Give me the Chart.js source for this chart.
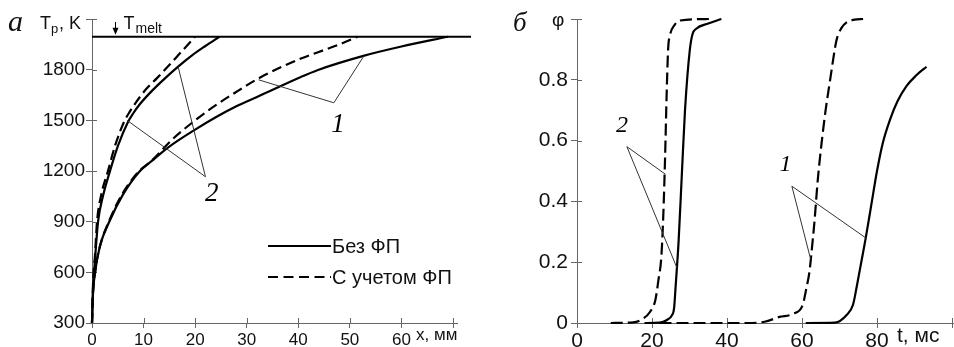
<!DOCTYPE html>
<html lang="ru">
<head>
<meta charset="UTF-8">
<script src="https://cdn.jsdelivr.net/npm/chart.js"></script>
<title>Tp(x) и φ(t)</title>
<style>
  body { margin: 0; background: #fff; }
  #wrap { position: relative; width: 954px; height: 347px; }
  canvas { position: absolute; top: 0; }
  #leftChart { left: 0; }
  #rightChart { left: 477px; }
</style>
</head>
<body>
<div id="wrap">
  <canvas id="leftChart" width="477" height="347"></canvas>
  <canvas id="rightChart" width="477" height="347"></canvas>
</div>
<script>
// ---------- panel а: Tp vs x, мм ----------
var tMelt = 1995;
var meltX = [0, 73.5];
var meltT = [tMelt, tMelt];

var x1Solid = [0, 0.15, 0.6, 1.5, 3.5, 6, 9.3, 11.6, 14.8, 20, 24, 27.8, 32.7, 40.5, 43.7, 52.8, 60, 69];
var t1Solid = [300, 450, 600, 750, 910, 1060, 1200, 1260, 1340, 1445, 1518, 1580, 1648, 1757, 1797, 1883, 1937, 1995];
var x1Dash  = [0, 0.15, 0.6, 1.5, 3.4, 5.8, 9, 11.6, 15.5, 20, 23.3, 27.8, 32.7, 40.5, 43.7, 48, 51.5];
var t1Dash  = [300, 450, 600, 750, 910, 1060, 1195, 1262, 1385, 1500, 1575, 1665, 1755, 1866, 1902, 1950, 1995];
var x2Solid = [0, 0.19, 0.58, 1.17, 2.14, 3.5, 5.06, 7.0, 8.0, 9.34, 11.67, 14.2, 16.7, 19.46, 21.98, 24.7];
var t2Solid = [300, 496, 674, 899, 1053, 1201, 1352, 1492, 1542, 1598, 1676, 1750, 1818, 1886, 1940, 1995];
var x2Dash  = [0, 0.19, 0.58, 0.97, 1.75, 3.11, 4.47, 6.23, 7.3, 8.5, 10.5, 12.6, 14.8, 17.3, 20.0];
var t2Dash  = [300, 526, 703, 899, 1053, 1201, 1350, 1492, 1550, 1605, 1685, 1750, 1821, 1905, 1995];

var xTicksLeft = [0, 10, 20, 30, 40, 50, 60, 70];
var yTicksLeft = [300, 600, 900, 1200, 1500, 1800, 2100];
var legendLabels = ['Без ФП', 'С учетом ФП'];

// ---------- panel б: φ vs t, мс ----------
var t2DashR  = [9, 15, 17, 19.5, 20.9, 21.7, 22.5, 23.0, 23.5, 23.9, 24.3, 24.8, 26, 27.5, 35.5];
var f2Dash   = [0, 0.002, 0.01, 0.037, 0.076, 0.14, 0.22, 0.35, 0.55, 0.75, 0.9, 0.947, 0.98, 0.995, 1.0];
var t2SolidR = [18, 22, 24, 25.3, 25.9, 26.3, 27.1, 28, 28.8, 30.1, 30.8, 31.8, 35, 38.5];
var f2Solid  = [0, 0.001, 0.01, 0.025, 0.05, 0.12, 0.27, 0.5, 0.70, 0.9, 0.95, 0.968, 0.985, 1.0];
var t1DashR  = [22, 45, 50, 54, 57.6, 60.2, 61.1, 62, 62.6, 63.3, 64.2, 65.3, 66.3, 67.5, 69.2, 70.5, 72, 74, 76.3];
var f1Dash   = [0, 0, 0.004, 0.02, 0.03, 0.06, 0.11, 0.17, 0.24, 0.33, 0.47, 0.6, 0.7, 0.8, 0.93, 0.97, 0.99, 0.998, 1.0];
var t1SolidR = [61, 68.8, 71.9, 73.6, 74.6, 75.8, 77, 78.5, 80, 81.5, 83.5, 85.5, 87.9, 90.5, 93.2];
var f1Solid  = [0, 0.001, 0.026, 0.06, 0.12, 0.2, 0.28, 0.39, 0.5, 0.59, 0.67, 0.73, 0.78, 0.815, 0.843];

var xTicksRight = [0, 20, 40, 60, 80, 100];
var yTicksRight = [0, 0.2, 0.4, 0.6, 0.8, 1];

// curve labels "1", "2" with their leader lines (data coords)
var leftNotes = [
  { text: '1', at: [47.7, 1474], apex: [46.9, 1604], ends: [[32.3, 1740], [52.7, 1880]] },
  { text: '2', at: [23.2, 1062], apex: [22.0, 1166], ends: [[16.7, 1818], [6.8, 1500]] }
];
var rightNotes = [
  { text: '2', at: [12.0, 0.65], apex: [13.3, 0.58], ends: [[23.5, 0.49], [26.7, 0.18]] },
  { text: '1', at: [55.6, 0.52], apex: [57.3, 0.45], ends: [[62.3, 0.21], [77.0, 0.28]] }
];

var AXIS = '#666';
var INK = '#111';
var SANS = '"Liberation Sans", Arial, sans-serif';
var SERIF = '"Liberation Serif", "Times New Roman", serif';

function pts(xs, ys) {
  return xs.map(function (x, i) { return { x: x, y: ys[i] }; });
}

function curve(xs, ys, dash) {
  return {
    data: pts(xs, ys),
    showLine: true,
    borderColor: '#000',
    borderWidth: 2.2,
    borderDash: dash || [],
    pointRadius: 0,
    cubicInterpolationMode: 'monotone',
    clip: false
  };
}

// tick stubs inside the plot, so ticks cross the axis like "+"
var crossTicks = {
  id: 'crossTicks',
  beforeDatasetsDraw: function (chart) {
    var ctx = chart.ctx, a = chart.chartArea, xs = chart.scales.x, ys = chart.scales.y;
    ctx.save();
    ctx.strokeStyle = AXIS;
    ctx.lineWidth = 1;
    ctx.beginPath();
    xs.ticks.forEach(function (t) {
      var px = Math.round(xs.getPixelForValue(t.value)) + 0.5;
      ctx.moveTo(px, a.bottom);
      ctx.lineTo(px, a.bottom - 5);
    });
    ys.ticks.forEach(function (t) {
      var py = Math.round(ys.getPixelForValue(t.value)) + 0.5;
      ctx.moveTo(a.left, py);
      ctx.lineTo(a.left + 5, py);
    });
    ctx.moveTo(a.right, Math.round(a.bottom) + 0.5);
    ctx.lineTo(a.right + 5, Math.round(a.bottom) + 0.5);
    ctx.stroke();
    ctx.restore();
  }
};

function drawNotes(chart, notes, size) {
  var ctx = chart.ctx, xs = chart.scales.x, ys = chart.scales.y;
  ctx.save();
  ctx.strokeStyle = '#333';
  ctx.lineWidth = 1;
  notes.forEach(function (n) {
    var ax = xs.getPixelForValue(n.apex[0]), ay = ys.getPixelForValue(n.apex[1]);
    ctx.beginPath();
    n.ends.forEach(function (e) {
      ctx.moveTo(ax, ay);
      ctx.lineTo(xs.getPixelForValue(e[0]), ys.getPixelForValue(e[1]));
    });
    ctx.stroke();
    ctx.fillStyle = '#000';
    ctx.font = 'italic ' + size + 'px ' + SERIF;
    ctx.textAlign = 'center';
    ctx.textBaseline = 'middle';
    ctx.fillText(n.text, xs.getPixelForValue(n.at[0]), ys.getPixelForValue(n.at[1]));
  });
  ctx.restore();
}

var leftDecor = {
  id: 'leftDecor',
  afterDraw: function (chart) {
    var ctx = chart.ctx, a = chart.chartArea, xs = chart.scales.x, ys = chart.scales.y;
    drawNotes(chart, leftNotes, 27);
    ctx.save();
    ctx.fillStyle = INK;
    ctx.textBaseline = 'alphabetic';
    ctx.textAlign = 'left';

    // panel letter
    ctx.font = 'italic 30px ' + SERIF;
    ctx.fillText('а', 8, 31);

    // y-axis title T_p, K at the top tick
    ctx.font = '18px ' + SANS;
    ctx.fillText('T', 40, 29);
    ctx.font = '13px ' + SANS;
    ctx.fillText('p', 51, 33);
    ctx.font = '18px ' + SANS;
    ctx.fillText(', K', 59, 29);

    // T_melt marker
    var mx = Math.round(xs.getPixelForValue(4.5)) + 0.5;
    var my = ys.getPixelForValue(tMelt);
    ctx.strokeStyle = '#000';
    ctx.lineWidth = 1;
    ctx.beginPath();
    ctx.moveTo(mx, 22);
    ctx.lineTo(mx, my - 3);
    ctx.stroke();
    ctx.beginPath();
    ctx.moveTo(mx - 3, my - 9);
    ctx.lineTo(mx, my - 2);
    ctx.lineTo(mx + 3, my - 9);
    ctx.closePath();
    ctx.fillStyle = '#000';
    ctx.fill();
    ctx.fillStyle = INK;
    ctx.font = '18px ' + SANS;
    ctx.fillText('T', mx + 8, 29);
    ctx.font = '14px ' + SANS;
    ctx.fillText('melt', mx + 20, 33);

    // x-axis title in place of the last tick label
    ctx.font = '17px ' + SANS;
    ctx.textBaseline = 'middle';
    ctx.fillText('x, мм', 416, a.bottom + 12);

    // legend
    var lx0 = 268, lx1 = 331;
    var rows = [{ y: 246, dash: [] }, { y: 277, dash: [10, 5.5] }];
    rows.forEach(function (r, i) {
      ctx.strokeStyle = '#000';
      ctx.lineWidth = 2.2;
      ctx.setLineDash(r.dash);
      ctx.beginPath();
      ctx.moveTo(lx0, r.y);
      ctx.lineTo(lx1, r.y);
      ctx.stroke();
      ctx.setLineDash([]);
      ctx.fillStyle = INK;
      ctx.font = '20px ' + SANS;
      ctx.textBaseline = 'middle';
      ctx.fillText(legendLabels[i], 332, r.y + 1);
    });
    ctx.restore();
  }
};

var rightDecor = {
  id: 'rightDecor',
  afterDraw: function (chart) {
    var ctx = chart.ctx, a = chart.chartArea;
    drawNotes(chart, rightNotes, 24);
    ctx.save();
    ctx.fillStyle = INK;
    ctx.textAlign = 'left';
    ctx.textBaseline = 'alphabetic';
    ctx.font = 'italic 27px ' + SERIF;
    ctx.fillText('б', 36, 31);
    ctx.font = '19px ' + SANS;
    ctx.fillText('φ', 75, 26);
    ctx.textBaseline = 'middle';
    ctx.font = '21px ' + SANS;
    ctx.fillText('t, мс', 420, a.bottom + 13);
    ctx.restore();
  }
};

function baseScales(o) {
  return {
    x: {
      type: 'linear',
      min: o.xMin, max: o.xMax,
      afterBuildTicks: function (s) { s.ticks = o.xTicks.map(function (v) { return { value: v }; }); },
      afterFit: function (s) { s.height = 24; s.paddingLeft = 0; s.paddingRight = 0; },
      ticks: {
        autoSkip: false, maxRotation: 0, padding: o.xPad, color: INK,
        font: { size: o.xFont, family: SANS },
        callback: function (v) { return v === o.xMax ? '' : String(v); }
      },
      grid: { drawOnChartArea: false, drawTicks: true, tickLength: 5, color: AXIS },
      border: { color: AXIS, width: 1 }
    },
    y: {
      type: 'linear',
      min: o.yMin, max: o.yMax,
      afterBuildTicks: function (s) { s.ticks = o.yTicks.map(function (v) { return { value: v }; }); },
      afterFit: function (s) { s.width = o.yWidth; s.paddingTop = 0; s.paddingBottom = 0; },
      ticks: {
        autoSkip: false, padding: o.yPad, color: INK,
        font: { size: o.yFont, family: SANS },
        callback: o.yLabel
      },
      grid: { drawOnChartArea: false, drawTicks: true, tickLength: 6, color: AXIS },
      border: { color: AXIS, width: 1 }
    }
  };
}

var common = {
  responsive: false,
  animation: false,
  events: [],
  plugins: { legend: { display: false }, tooltip: { enabled: false } }
};

new Chart(document.getElementById('leftChart'), {
  type: 'scatter',
  data: {
    datasets: [
      Object.assign(curve(meltX, meltT), { borderWidth: 2, cubicInterpolationMode: 'default' }),
      Object.assign(curve(x1Solid, t1Solid), { label: legendLabels[0] }),
      Object.assign(curve(x1Dash, t1Dash, [10, 5]), { label: legendLabels[1] }),
      Object.assign(curve(x2Solid, t2Solid), { label: legendLabels[0] }),
      Object.assign(curve(x2Dash, t2Dash, [10, 5]), { label: legendLabels[1] })
    ]
  },
  options: Object.assign({}, common, {
    layout: { padding: { top: 19, right: 24, left: 0, bottom: 0 } },
    scales: baseScales({
      xMin: 0, xMax: 70, xTicks: xTicksLeft, xFont: 17, xPad: 2,
      yMin: 300, yMax: 2100, yTicks: yTicksLeft, yFont: 19, yPad: 1, yWidth: 92,
      yLabel: function (v) { return v === 2100 ? '' : String(v); }
    })
  }),
  plugins: [crossTicks, leftDecor]
});

new Chart(document.getElementById('rightChart'), {
  type: 'scatter',
  data: {
    datasets: [
      Object.assign(curve(t2DashR, f2Dash, [12, 5]), { label: legendLabels[1] }),
      Object.assign(curve(t2SolidR, f2Solid), { label: legendLabels[0] }),
      Object.assign(curve(t1DashR, f1Dash, [12, 5]), { label: legendLabels[1] }),
      Object.assign(curve(t1SolidR, f1Solid), { label: legendLabels[0] })
    ]
  },
  options: Object.assign({}, common, {
    layout: { padding: { top: 19, right: 2, left: 0, bottom: 0 } },
    scales: baseScales({
      xMin: 0, xMax: 100, xTicks: xTicksRight, xFont: 21, xPad: 1,
      yMin: 0, yMax: 1, yTicks: yTicksRight, yFont: 21, yPad: 3, yWidth: 100,
      yLabel: function (v) { return v >= 0.999 ? '' : (v === 0 ? '0' : v.toFixed(1)); }
    })
  }),
  plugins: [crossTicks, rightDecor]
});
</script>
</body>
</html>
